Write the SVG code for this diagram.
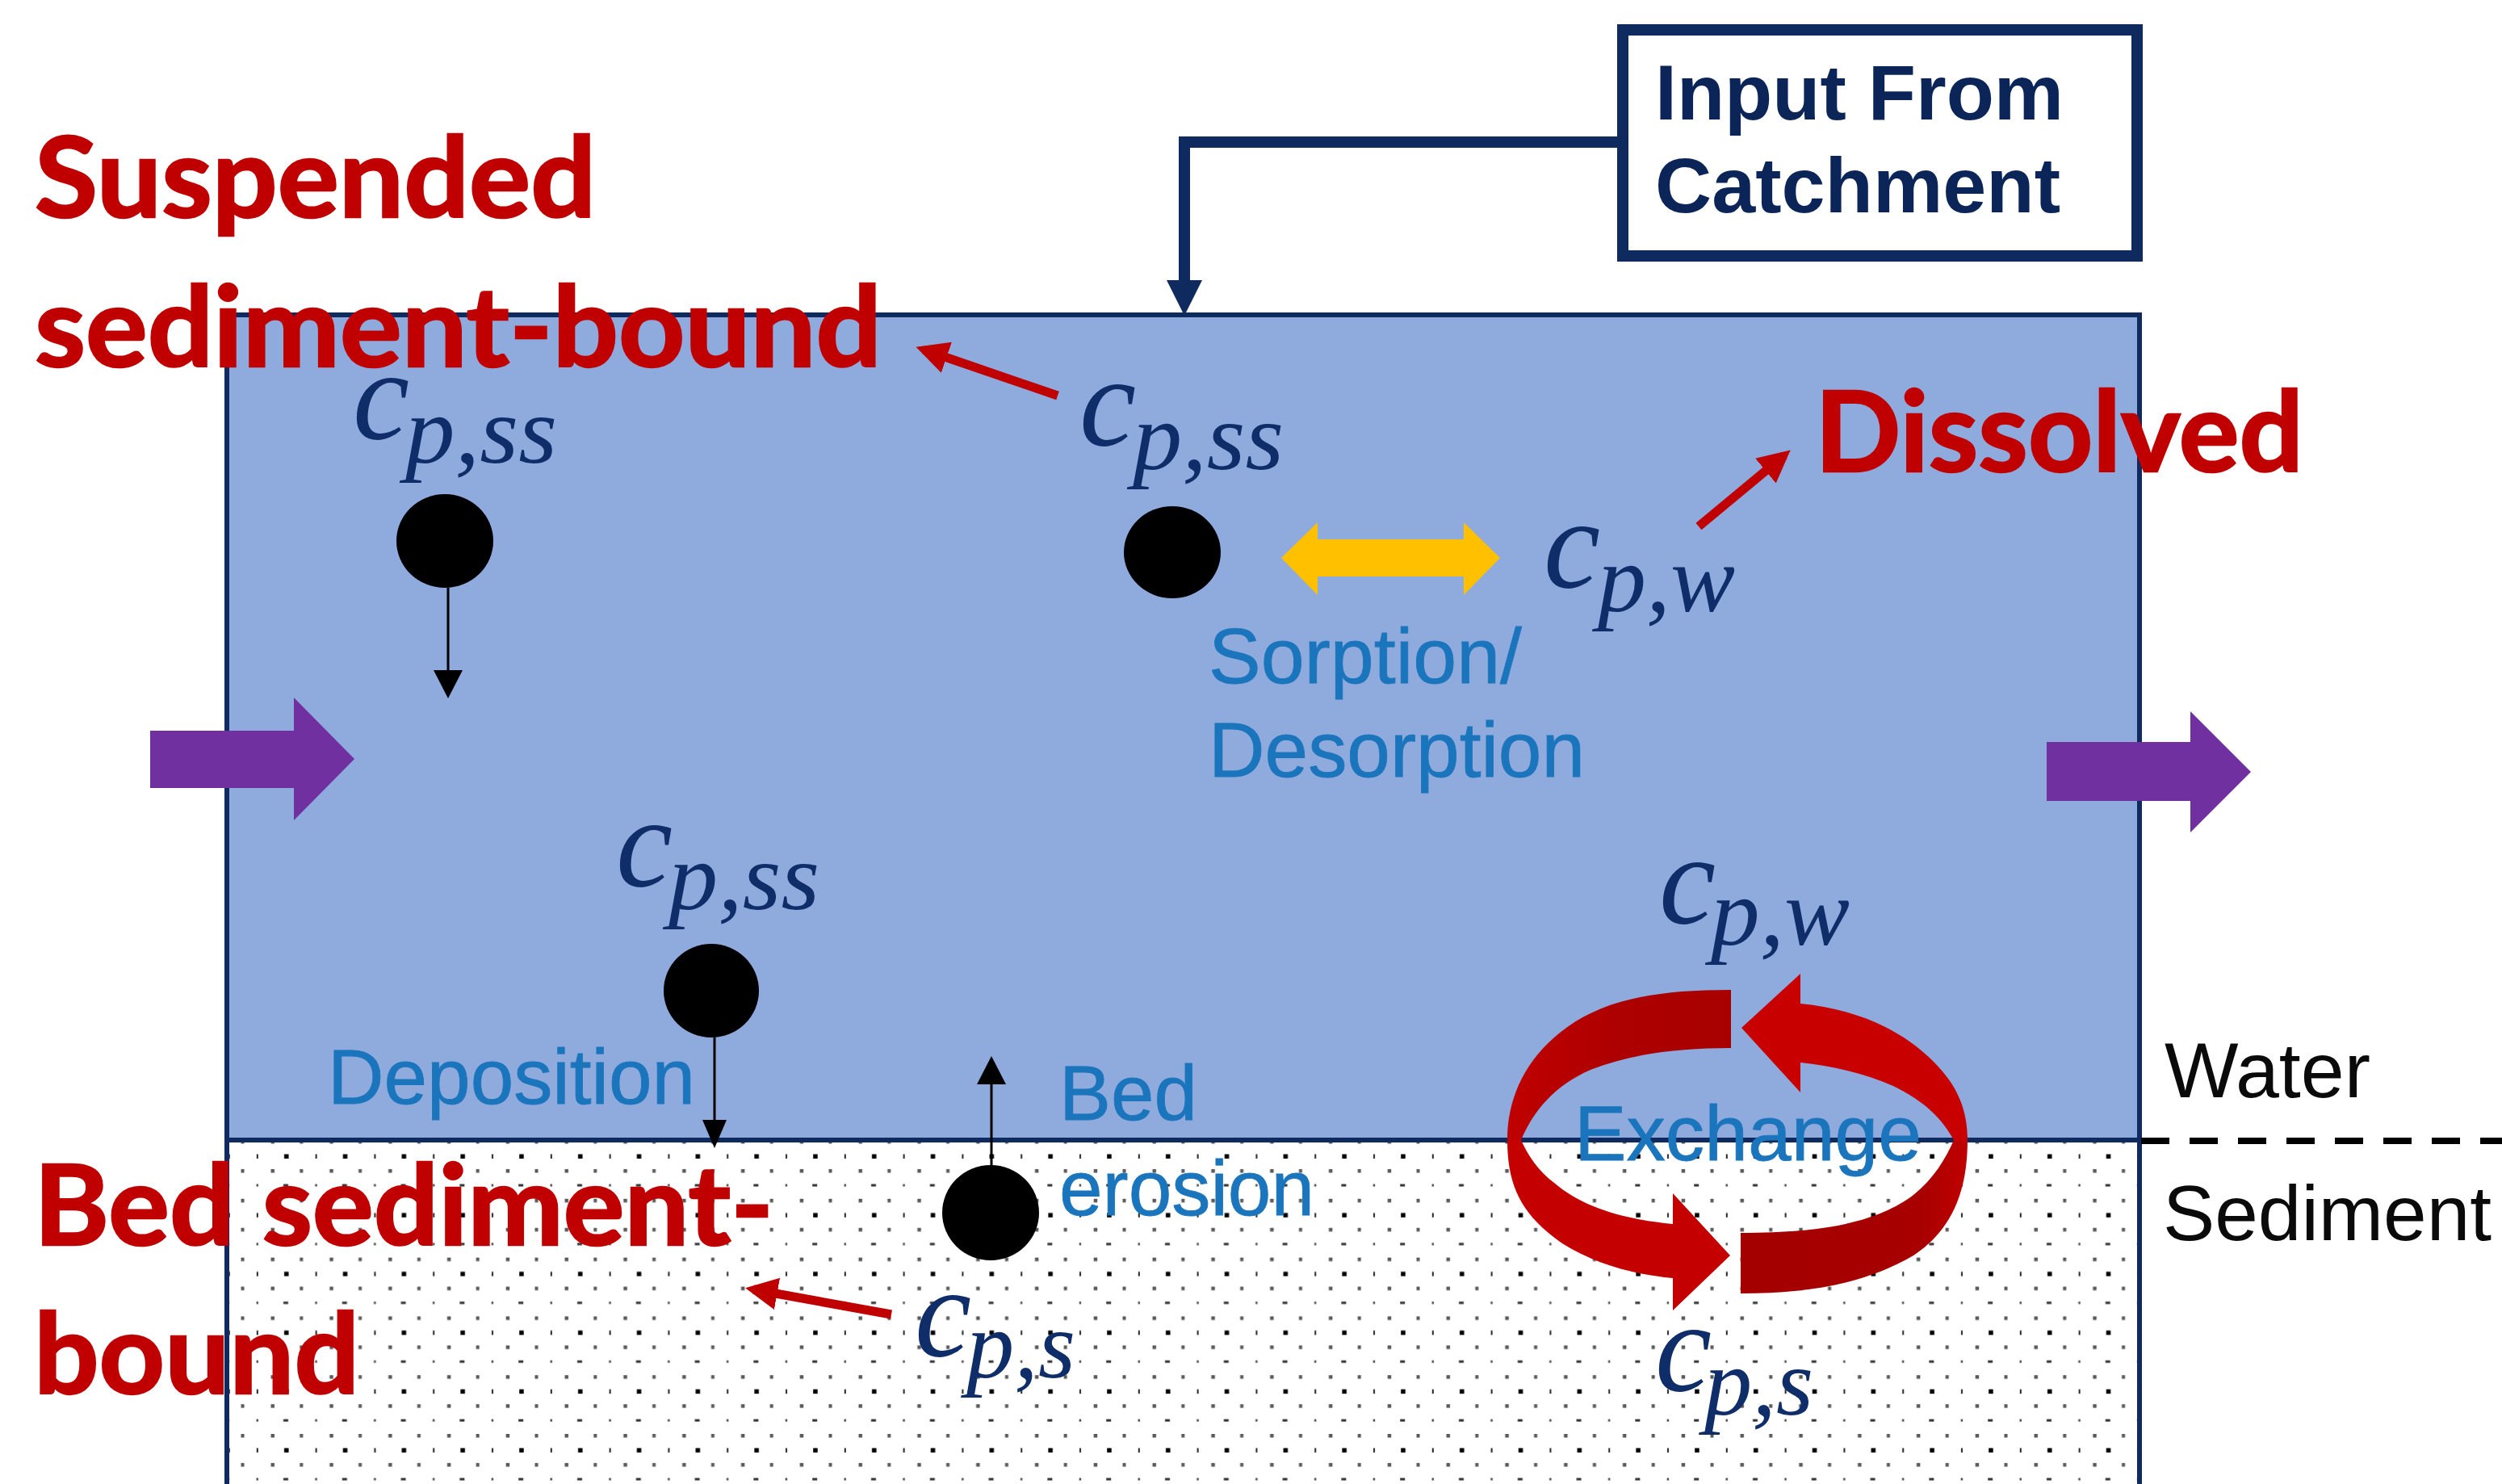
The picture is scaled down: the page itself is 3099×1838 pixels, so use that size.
<svg xmlns="http://www.w3.org/2000/svg" width="3099" height="1838" viewBox="0 0 3099 1838">
<style>
.red{font-family:"Lato","Liberation Sans",sans-serif;font-weight:700;font-size:137px;fill:#c00000;stroke:#c00000;stroke-width:2.5}
.blue{font-family:"Liberation Sans",Arial,sans-serif;font-size:96px;fill:#1b75bc;stroke:#1b75bc;stroke-width:.8}
.blk{font-family:"Liberation Sans",Arial,sans-serif;font-size:96px;fill:#0a0a0a}
.inp{font-family:"Liberation Sans",Arial,sans-serif;font-weight:700;font-size:96px;fill:#0b2559}
.c{font-family:"Liberation Serif","DejaVu Serif",serif;font-style:italic;font-size:158px;fill:#0f2d69}
.s{font-family:"Liberation Serif","DejaVu Serif",serif;font-style:italic;font-size:118px;fill:#0f2d69}
.navy{fill:none;stroke:#0f2a5f}
.thin{stroke:#000;stroke-width:3;fill:none}
.rl{stroke:#c00000;stroke-width:11;fill:none}
</style>
<defs>
<pattern id="dots" patternUnits="userSpaceOnUse" x="281" y="1414" width="72.8" height="72.8">
<g fill="#000">
<rect x="17.5" y="-2" width="4" height="4.5" opacity=".65"/><rect x="54.5" y="-2" width="4.5" height="4.5" opacity=".65"/>
<rect x="17.5" y="70.8" width="4" height="4.5" opacity=".65"/><rect x="54.5" y="70.8" width="4.5" height="4.5" opacity=".65"/>
<rect x="36.8" y="15.5" width="2" height="5.5" opacity=".85"/><rect x="71" y="15.5" width="5.5" height="5.5"/><rect x="-1.8" y="15.5" width="5.5" height="5.5"/>
<rect x="17.5" y="34" width="4" height="4.5" opacity=".65"/><rect x="54.5" y="34" width="4.5" height="4.5" opacity=".65"/>
<rect x="36.5" y="52.5" width="2.5" height="3" opacity=".7"/><rect x="70" y="52.5" width="6" height="3" opacity=".8"/><rect x="-2.8" y="52.5" width="6" height="3" opacity=".8"/>
</g>
</pattern>
<linearGradient id="g1" x1="0" y1="0" x2="1" y2="0"><stop offset="0" stop-color="#c00000"/><stop offset=".5" stop-color="#ad0000"/><stop offset="1" stop-color="#a80000"/></linearGradient>
<linearGradient id="g2" x1="0" y1="0" x2="1" y2="0"><stop offset="0" stop-color="#a40000"/><stop offset=".8" stop-color="#a80000"/><stop offset="1" stop-color="#c00000"/></linearGradient>
<marker id="mk" markerUnits="userSpaceOnUse" markerWidth="44" markerHeight="44" refX="30" refY="20" orient="auto"><path d="M0 0L40 20L0 40Z" fill="#c00000"/></marker>
</defs>
<rect width="3099" height="1838" fill="#fff"/>
<g id="sediment"><rect x="281" y="1412" width="2369" height="426" fill="url(#dots)"/></g>
<g id="water"><rect x="281" y="390" width="2369" height="1022" fill="#8faadc"/></g>
<path class="navy" stroke-width="6" d="M281 1838V390H2650V1838M281 1412H2650"/>
<path d="M2652 1413H3099" stroke="#000" stroke-width="8" stroke-dasharray="35 25" fill="none"/>

<g id="connectors">
<path class="navy" stroke-width="14" d="M2005 176H1467V350"/>
<path d="M1445 347H1489L1467 391Z" fill="#0f2a5f"/>
<path class="thin" d="M555 728V835"/><path d="M537 830H573L555 865Z"/>
<path class="thin" d="M885 1285V1390"/><path d="M870 1387H900L885 1422Z"/>
<path class="thin" d="M1228 1444V1340"/><path d="M1210 1343H1246L1228 1308Z"/>
<path d="M1587 691L1632 647V668H1813V647L1858 691L1813 737V714H1632V737Z" fill="#ffc000"/>
<path d="M186 905H364V864L439 940L364 1016V976H186Z" fill="#7030a0"/>
<path d="M2535 919H2713V881L2788 956L2713 1031V992H2535Z" fill="#7030a0"/>
<path class="rl" d="M1310 490L1144 433" marker-end="url(#mk)"/>
<path class="rl" d="M2104 652L2210 564" marker-end="url(#mk)"/>
<path class="rl" d="M1104 1628L933 1597" marker-end="url(#mk)"/>
</g>

<g id="exchange-ring">
<path fill="url(#g1)" d="M2144 1226C2040 1226 1975 1241 1925 1285C1885 1320 1867 1365 1867 1412H1884C1900 1375 1925 1345 1970 1325C2020 1305 2080 1298 2144 1298Z"/>
<path fill="url(#g2)" d="M2156 1527C2270 1527 2330 1510 2370 1480C2395 1460 2410 1435 2420 1412H2437C2437 1480 2415 1525 2370 1555C2310 1590 2240 1602 2156 1602Z"/>
<path fill="#c40000" d="M1867 1412C1867 1470 1885 1505 1935 1540C1975 1565 2020 1578 2072 1583V1623L2143 1555L2072 1478V1516C2010 1510 1960 1495 1925 1465C1905 1450 1892 1430 1884 1412Z"/>
<path fill="#c80000" d="M2157 1273L2230 1206V1243C2300 1250 2355 1275 2395 1315C2425 1345 2437 1375 2437 1412H2420C2405 1385 2385 1365 2345 1345C2310 1330 2270 1320 2230 1316V1353Z"/>
</g>

<g id="particles">
<ellipse cx="551" cy="670" rx="60" ry="58"/>
<ellipse cx="1452" cy="684" rx="60" ry="57"/>
<ellipse cx="881" cy="1227" rx="59" ry="58"/>
<ellipse cx="1227" cy="1502" rx="60" ry="59"/>
</g>

<g id="input-box">
<rect x="2010" y="37" width="637" height="280" fill="#fff" stroke="#0f2a5f" stroke-width="14"/>
<text class="inp" x="2050" y="148" textLength="506" lengthAdjust="spacingAndGlyphs">Input From</text>
<text class="inp" x="2050" y="263" textLength="502" lengthAdjust="spacingAndGlyphs">Catchment</text>
</g>

<g id="labels-process">
<text class="blue" x="1497" y="846" textLength="388" lengthAdjust="spacingAndGlyphs">Sorption/</text>
<text class="blue" x="1497" y="962" textLength="466" lengthAdjust="spacingAndGlyphs">Desorption</text>
<text class="blue" x="406" y="1367" textLength="455" lengthAdjust="spacingAndGlyphs">Deposition</text>
<text class="blue" x="1312" y="1387">Bed</text>
<text class="blue" x="1312" y="1505" textLength="316" lengthAdjust="spacingAndGlyphs">erosion</text>
<text class="blue" x="1950" y="1437" textLength="430" lengthAdjust="spacingAndGlyphs">Exchange</text>
<text class="blk" x="2681" y="1359" textLength="255" lengthAdjust="spacingAndGlyphs">Water</text>
<text class="blk" x="2679" y="1536" textLength="407" lengthAdjust="spacingAndGlyphs">Sediment</text>
</g>

<g id="symbols">
<text class="c" x="437" y="543">c</text><text class="s" x="502" y="573" textLength="188" lengthAdjust="spacingAndGlyphs">p,ss</text>
<text class="c" x="1337" y="551">c</text><text class="s" x="1403" y="581" textLength="187" lengthAdjust="spacingAndGlyphs">p,ss</text>
<text class="c" x="1912" y="727">c</text><text class="s" x="1979" y="757" textLength="170" lengthAdjust="spacingAndGlyphs">p,w</text>
<text class="c" x="763" y="1097">c</text><text class="s" x="828" y="1126" textLength="187" lengthAdjust="spacingAndGlyphs">p,ss</text>
<text class="c" x="2055" y="1143">c</text><text class="s" x="2119" y="1170" textLength="172" lengthAdjust="spacingAndGlyphs">p,w</text>
<text class="c" x="1133" y="1679">c</text><text class="s" x="1197" y="1706" textLength="135" lengthAdjust="spacingAndGlyphs">p,s</text>
<text class="c" x="2050" y="1722">c</text><text class="s" x="2111" y="1752" textLength="135" lengthAdjust="spacingAndGlyphs">p,s</text>
</g>

<g id="labels-phase">
<text class="red" x="43" y="269" textLength="695" lengthAdjust="spacingAndGlyphs">Suspended</text>
<text class="red" x="43" y="454" textLength="1049" lengthAdjust="spacingAndGlyphs">sediment-bound</text>
<text class="red" x="2248" y="584" textLength="605" lengthAdjust="spacingAndGlyphs">Dissolved</text>
<text class="red" x="42" y="1542" textLength="916" lengthAdjust="spacingAndGlyphs">Bed sediment-</text>
<text class="red" x="42" y="1726" textLength="403" lengthAdjust="spacingAndGlyphs">bound</text>
</g>
</svg>
